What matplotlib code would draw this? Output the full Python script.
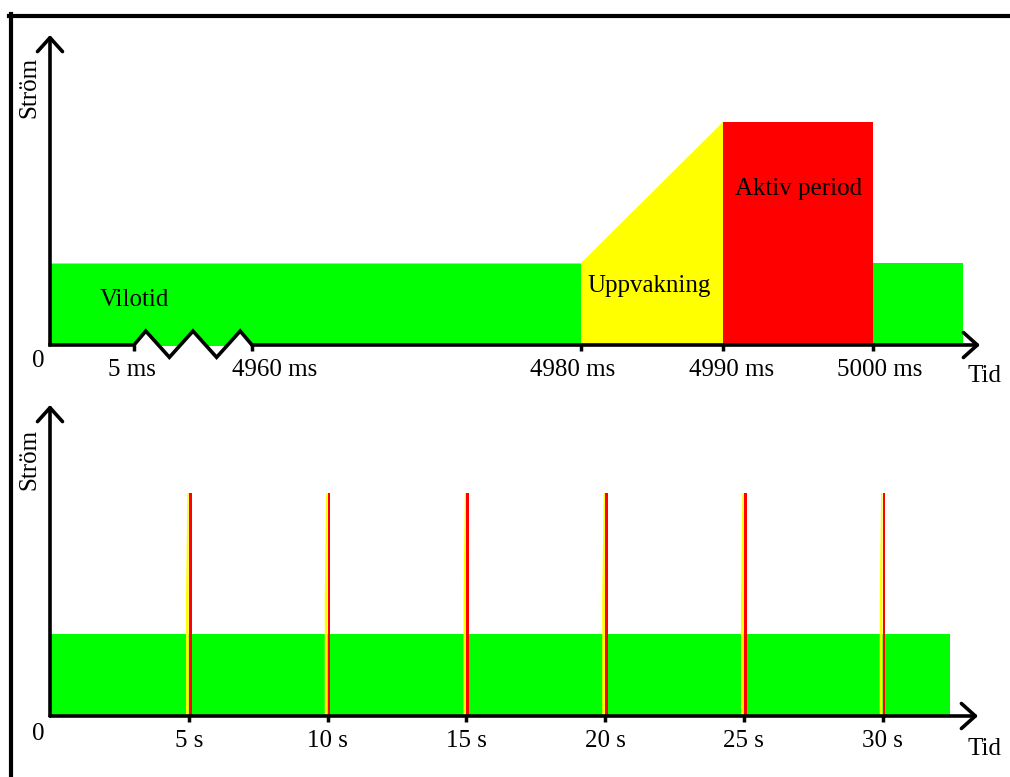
import numpy as np
import matplotlib.pyplot as plt
from matplotlib.lines import Line2D
from matplotlib.transforms import ScaledTranslation

plt.rcParams['font.family'] = ['Liberation Serif', 'DejaVu Serif']
plt.rcParams['font.size'] = 18

W, H = 1010, 777
GREEN, YELLOW, RED = '#00ff00', '#ffff00', '#ff0000'

# --- top panel: one wake cycle (ms) ---
tick_ms = [0, 5, 4960, 4980, 4990, 5000]
tick_ms_lbl = ['0', '5 ms', '4960 ms', '4980 ms', '4990 ms', '5000 ms']
wake_start = 4980
active_start = 4990
active_end = 5000
view_end = 5006
sleep_level = 1.0
active_level = 2.72

# --- bottom panel: repeated cycles (s) ---
burst_s = [5, 10, 15, 20, 25, 30]
burst_lbl = ['5 s', '10 s', '15 s', '20 s', '25 s', '30 s']
burst_w = 0.1
green_end_s = 32.43

# broken time axis: ms -> position along the drawn axis
tick_u = [0, 84, 202, 531, 673, 823]
lbl_shift = [-2, 23, -8, 9, 7]   # px, label nudges as in the drawing


def tpos(t):
    t = np.asarray(t, float)
    return np.where(t <= 5000, np.interp(t, tick_ms, tick_u), 823 + 15 * (t - 5000))


def frac(x0, y0, x1, y1):
    return [x0 / W, 1 - y1 / H, (x1 - x0) / W, (y1 - y0) / H]


def px(x, y):
    return x / W, 1 - y / H


arrow = dict(arrowstyle='->,head_length=0.5,head_width=0.45', lw=2.6,
             color='k', shrinkA=0, shrinkB=0, mutation_scale=20)

fig = plt.figure(figsize=(W / 100, H / 100), dpi=100)

# ---------------- top ----------------
ax1 = fig.add_axes(frac(50, 35, 980, 345))
ax1.set_xlim(0, 930)
ax1.set_ylim(0, 310 / 82)

# zigzag break between 5 ms and 4960 ms
zx = float(tpos(5)) + (float(tpos(4960)) - float(tpos(5))) * np.array([0, .1, .3, .5, .7, .9, 1])
zy = np.array([0, .17, -.15, .17, -.15, .17, 0])

ax1.fill_between(np.r_[0, zx, tpos(wake_start)], np.r_[0, zy, 0], sleep_level,
                 color=GREEN, lw=0)
ax1.fill([tpos(wake_start), tpos(wake_start), tpos(active_start), tpos(active_start)],
         [0, sleep_level, active_level, 0], color=YELLOW, lw=0)
ax1.fill_between([tpos(active_start), tpos(active_end)], 0, active_level, color=RED, lw=0)
ax1.fill_between([tpos(active_end), tpos(view_end)], 0, sleep_level, color=GREEN, lw=0)

ax1.plot(np.r_[0, zx], np.r_[0, zy], color='k', lw=2.6, clip_on=False,
         solid_joinstyle='miter')
ax1.annotate('', xy=(1, 0), xycoords='axes fraction',
             xytext=(float(tpos(4960)), 0), textcoords='data', arrowprops=arrow)
ax1.annotate('', xy=(0, 1), xytext=(0, 0), xycoords='axes fraction', arrowprops=arrow)

ax1.set_xticks(tpos(tick_ms[1:]), tick_ms_lbl[1:])
ax1.annotate(tick_ms_lbl[0], xy=(0, 0), xytext=(-12, -22), textcoords='offset pixels',
             ha='center', va='baseline')

fig.text(*px(100, 306), 'Vilotid', ha='left', va='baseline')
fig.text(*px(587, 292), 'Uppvakning', ha='left', va='baseline')
fig.text(*px(735, 195), 'Aktiv period', ha='left', va='baseline')
fig.text(*px(29, 87), 'Ström', rotation=90, ha='center', va='center')
fig.text(*px(968, 382), 'Tid', ha='left', va='baseline')

# ---------------- bottom ----------------
ax2 = fig.add_axes(frac(50, 405, 978, 716))
ax2.set_xlim(0, 928 / 27.75)
ax2.set_ylim(0, 311 / 82)

ax2.fill_between([0, green_end_s], 0, sleep_level, color=GREEN, lw=0)
for t in burst_s:
    ax2.fill([t - burst_w, t - burst_w, t - burst_w / 2, t, t],
             [0, sleep_level + 0.4, active_level, active_level, 0],
             color=YELLOW, lw=0)
    ax2.fill_between([t, t + burst_w], 0, active_level, color=RED, lw=0)

ax2.annotate('', xy=(1, 0), xytext=(0, 0), xycoords='axes fraction', arrowprops=arrow)
ax2.annotate('', xy=(0, 1), xytext=(0, 0), xycoords='axes fraction', arrowprops=arrow)

ax2.set_xticks(burst_s, burst_lbl)
ax2.annotate('0', xy=(0, 0), xytext=(-12, -24), textcoords='offset pixels',
             ha='center', va='baseline')

fig.text(*px(29, 459), 'Ström', rotation=90, ha='center', va='center')
fig.text(*px(968, 755), 'Tid', ha='left', va='baseline')

for ax in (ax1, ax2):
    for s in ax.spines.values():
        s.set_visible(False)
    ax.set_yticks([])
    ax.tick_params(axis='x', length=4, width=2.5, pad=6, colors='k')
    ax.patch.set_alpha(0)

for lab, dx in zip(ax1.get_xticklabels(), lbl_shift):
    lab.set_transform(lab.get_transform() + ScaledTranslation(dx / 100, 0, fig.dpi_scale_trans))

# frame (top and left edges)
fig.add_artist(Line2D([9 / W, 1], [1 - 16 / H] * 2, transform=fig.transFigure,
                      color='k', lw=3))
fig.add_artist(Line2D([11 / W] * 2, [0, 1 - 14 / H], transform=fig.transFigure,
                      color='k', lw=3))

fig.savefig('out.png', dpi=100)
